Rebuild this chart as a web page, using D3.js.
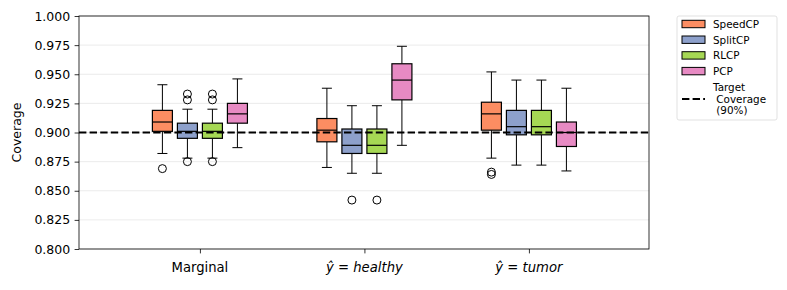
<!DOCTYPE html>
<html>
<head>
  <script src="https://d3js.org/d3.v7.min.js"></script>
  <style>
    body { margin: 0; background: #fff; }
    text { font-family: "DejaVu Sans", sans-serif; fill: #000; }
  </style>
</head>
<body>
  <script>
    const groups = ["Marginal", "healthy", "tumor"];
    const methods = ["SpeedCP", "SplitCP", "RLCP", "PCP"];
    const colors = ["#fc8d62", "#8da0cb", "#a6d854", "#e78ac3"];
    const yTicks = [0.8, 0.825, 0.85, 0.875, 0.9, 0.925, 0.95, 0.975, 1.0];
    const target = 0.9;

    // [whiskerLow, q1, median, q3, whiskerHigh] per group, per method
    const speedCP = [[0.882, 0.901, 0.909, 0.919, 0.941], [0.870, 0.892, 0.902, 0.912, 0.938], [0.878, 0.902, 0.916, 0.926, 0.952]];
    const splitCP = [[0.878, 0.895, 0.901, 0.908, 0.920], [0.865, 0.882, 0.889, 0.903, 0.923], [0.872, 0.898, 0.905, 0.919, 0.945]];
    const rlcp    = [[0.878, 0.895, 0.901, 0.908, 0.920], [0.865, 0.882, 0.889, 0.903, 0.923], [0.872, 0.898, 0.905, 0.919, 0.945]];
    const pcp     = [[0.887, 0.908, 0.916, 0.925, 0.946], [0.889, 0.928, 0.945, 0.959, 0.974], [0.867, 0.888, 0.900, 0.909, 0.938]];

    const speedOut = [[0.869], [], [0.866, 0.864]];
    const splitOut = [[0.933, 0.928, 0.875], [0.842], []];
    const rlcpOut  = [[0.933, 0.928, 0.875], [0.842], []];
    const pcpOut   = [[], [], []];

    const stats = [speedCP, splitCP, rlcp, pcp];
    const outs = [speedOut, splitOut, rlcpOut, pcpOut];

    const width = 787, height = 290;
    const margin = { left: 79, right: 138, top: 16, bottom: 41 };

    const svg = d3.select("body").append("svg")
      .attr("width", width)
      .attr("height", height);

    const x = d3.scaleLinear().domain([-0.735, 2.73]).range([margin.left, width - margin.right]);
    const y = d3.scaleLinear().domain([0.8, 1.0]).range([height - margin.bottom, margin.top]);

    const offset = 0.152, boxW = 0.1216;

    // grid
    svg.append("g")
      .selectAll("line")
      .data(yTicks)
      .enter().append("line")
      .attr("x1", margin.left).attr("x2", width - margin.right)
      .attr("y1", d => y(d)).attr("y2", d => y(d))
      .attr("stroke", "#e6e6e6")
      .attr("stroke-width", 0.8);

    // boxes
    const rows = [];
    stats.forEach((s, m) => s.forEach((v, g) => rows.push({ m, g, v, out: outs[m][g] })));

    const bw = x(boxW) - x(0);
    const box = svg.append("g").selectAll("g")
      .data(rows)
      .enter().append("g")
      .attr("transform", d => `translate(${x(d.g + (d.m - 1.5) * offset)},0)`);

    box.append("line")
      .attr("y1", d => y(d.v[0])).attr("y2", d => y(d.v[1]))
      .attr("stroke", "#000").attr("stroke-width", 1);
    box.append("line")
      .attr("y1", d => y(d.v[3])).attr("y2", d => y(d.v[4]))
      .attr("stroke", "#000").attr("stroke-width", 1);
    [0, 4].forEach(i => box.append("line")
      .attr("x1", -bw / 4).attr("x2", bw / 4)
      .attr("y1", d => y(d.v[i])).attr("y2", d => y(d.v[i]))
      .attr("stroke", "#000").attr("stroke-width", 1));
    box.append("rect")
      .attr("x", -bw / 2).attr("width", bw)
      .attr("y", d => y(d.v[3]))
      .attr("height", d => y(d.v[1]) - y(d.v[3]))
      .attr("fill", d => colors[d.m])
      .attr("stroke", "#000").attr("stroke-width", 1.2);
    box.append("line")
      .attr("x1", -bw / 2).attr("x2", bw / 2)
      .attr("y1", d => y(d.v[2])).attr("y2", d => y(d.v[2]))
      .attr("stroke", "#000").attr("stroke-width", 1.2);
    box.selectAll("circle")
      .data(d => d.out)
      .enter().append("circle")
      .attr("cy", d => y(d)).attr("r", 4)
      .attr("fill", "none").attr("stroke", "#000").attr("stroke-width", 1);

    // target line
    svg.append("line")
      .attr("x1", margin.left).attr("x2", width - margin.right)
      .attr("y1", y(target)).attr("y2", y(target))
      .attr("stroke", "#000").attr("stroke-width", 2)
      .attr("stroke-dasharray", "7.4,3.2");

    // axes
    const yAxis = svg.append("g")
      .attr("transform", `translate(${margin.left},0)`)
      .call(d3.axisLeft(y).tickValues(yTicks).tickFormat(d3.format(".3f")).tickSize(4.4).tickPadding(4.4));
    const xAxis = svg.append("g")
      .attr("transform", `translate(0,${height - margin.bottom})`)
      .call(d3.axisBottom(x).tickValues([0, 1, 2]).tickFormat("").tickSize(4.4));
    [yAxis, xAxis].forEach(a => {
      a.selectAll("text").attr("font-size", 12.5).attr("font-family", "DejaVu Sans");
      a.selectAll("line").attr("stroke-width", 0.8);
      a.select(".domain").remove();
    });

    svg.append("rect")
      .attr("x", margin.left).attr("y", margin.top)
      .attr("width", width - margin.right - margin.left)
      .attr("height", height - margin.top - margin.bottom)
      .attr("fill", "none").attr("stroke", "#000").attr("stroke-width", 0.8);

    // x labels
    const xl = svg.append("g").selectAll("text")
      .data(groups)
      .enter().append("text")
      .attr("x", (d, i) => x(i))
      .attr("y", height - margin.bottom + 23)
      .attr("text-anchor", "middle")
      .attr("font-size", 13.2);
    xl.each(function (d, i) {
      const t = d3.select(this);
      if (i === 0) { t.text(d); return; }
      t.append("tspan").attr("font-style", "italic").text("ŷ");
      t.append("tspan").text(" = ");
      t.append("tspan").attr("font-style", "italic").text(d);
    });

    svg.append("text")
      .attr("transform", `translate(21,${y(0.9)}) rotate(-90)`)
      .attr("text-anchor", "middle")
      .attr("font-size", 12.5)
      .text("Coverage");

    // legend
    const fs = 10.4;
    const lg = svg.append("g").attr("transform", "translate(677,16)");
    lg.append("rect")
      .attr("width", 100).attr("height", 104).attr("rx", 2)
      .attr("fill", "#fff").attr("stroke", "#d9d9d9").attr("stroke-width", 0.8);
    methods.forEach((name, i) => {
      const ry = 8 + i * 15.7;
      lg.append("rect")
        .attr("x", 5).attr("y", ry - 3.7).attr("width", 23).attr("height", 7.4)
        .attr("fill", colors[i]).attr("stroke", "#000").attr("stroke-width", 1);
      lg.append("text")
        .attr("x", 36).attr("y", ry + 3.8)
        .attr("font-size", fs).text(name);
    });
    lg.append("line")
      .attr("x1", 5).attr("x2", 28).attr("y1", 83).attr("y2", 83)
      .attr("stroke", "#000").attr("stroke-width", 2)
      .attr("stroke-dasharray", "7.4,3.2");
    ["Target", " Coverage", " (90%)"].forEach((s, i) => {
      lg.append("text")
        .attr("x", 36).attr("y", 75 + i * 11.6)
        .attr("font-size", fs)
        .attr("xml:space", "preserve")
        .style("white-space", "pre")
        .text(s);
    });
  </script>
</body>
</html>
